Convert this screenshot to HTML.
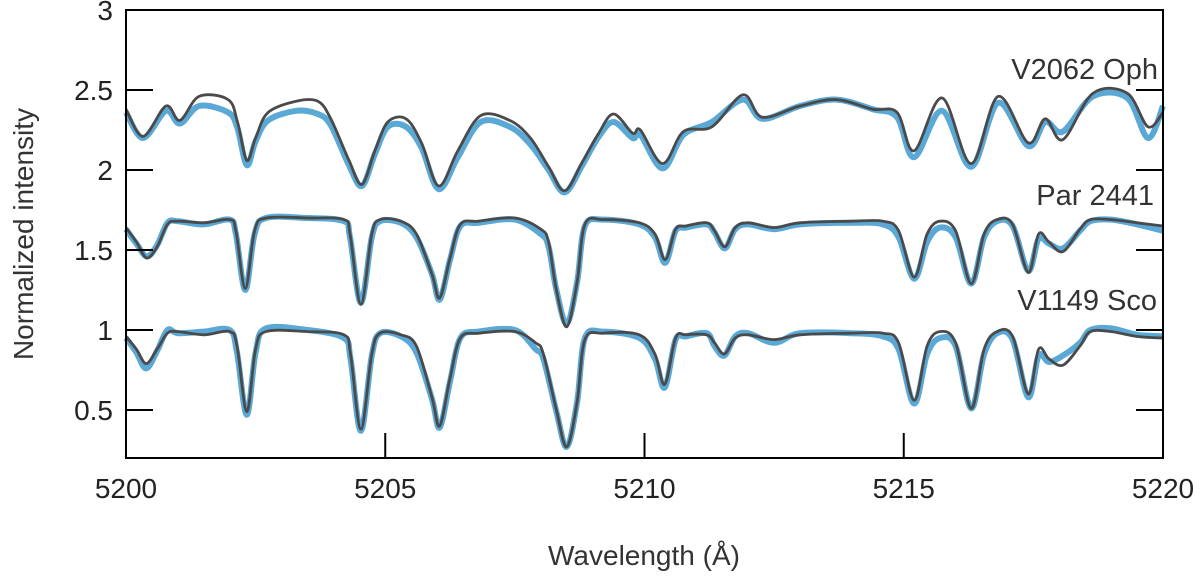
<!DOCTYPE html>
<html><head><meta charset="utf-8"><style>
html,body{margin:0;padding:0;background:#fff;}
svg{display:block;font-family:"Liberation Sans",sans-serif;}
</style></head><body>
<svg id="chart" width="1200" height="579" viewBox="0 0 1200 579" xmlns="http://www.w3.org/2000/svg">
<g id="series"></g>
<g id="axes"></g>
<text x="644" y="565" font-size="28" fill="#333" text-anchor="middle">Wavelength (Å)</text>
<text transform="translate(33,234) rotate(-90)" font-size="28" fill="#333" text-anchor="middle">Normalized intensity</text>
<text x="1158" y="79" font-size="29" fill="#333" text-anchor="end">V2062 Oph</text>
<text x="1154" y="205" font-size="29" fill="#333" text-anchor="end">Par 2441</text>
<text x="1157" y="310" font-size="29" fill="#333" text-anchor="end">V1149 Sco</text>
</svg>
<script>
const xTicks = [5200, 5205, 5210, 5215, 5220];
const yTicks = [0.5, 1, 1.5, 2, 2.5, 3];
const yTickLabels = ["0.5", "1", "1.5", "2", "2.5", "3"];

const opModelW = [5200,5200.33,5200.77,5201.04,5201.41,5201.97,5202.15,5202.33,5202.5,5202.74,5203.28,5203.7,5203.95,5204.3,5204.55,5204.8,5205.05,5205.4,5205.7,5206.03,5206.4,5206.84,5207.4,5207.8,5208.15,5208.46,5208.8,5209.1,5209.4,5209.77,5209.92,5210.35,5210.75,5211.3,5211.9,5212.27,5213,5213.7,5214.4,5214.87,5215.2,5215.74,5216.3,5216.82,5217.4,5217.73,5218.07,5218.65,5219.31,5219.71,5220];
const opModelV = [2.38,2.21,2.40,2.31,2.46,2.44,2.30,2.06,2.20,2.36,2.43,2.43,2.32,2.06,1.91,2.12,2.30,2.32,2.17,1.90,2.12,2.34,2.31,2.20,2.02,1.87,2.05,2.22,2.35,2.23,2.25,2.04,2.24,2.27,2.47,2.33,2.40,2.44,2.38,2.36,2.12,2.45,2.04,2.46,2.17,2.32,2.19,2.48,2.48,2.27,2.36];
const opObsV = [2.36,2.20,2.37,2.29,2.40,2.36,2.26,2.03,2.18,2.31,2.37,2.35,2.28,2.03,1.90,2.10,2.27,2.27,2.14,1.88,2.08,2.30,2.27,2.16,2.00,1.86,2.03,2.20,2.30,2.20,2.22,2.01,2.22,2.30,2.44,2.32,2.40,2.44,2.38,2.33,2.08,2.37,2.02,2.42,2.15,2.30,2.24,2.46,2.45,2.20,2.40];

const parModelW = [5200,5200.2,5200.4,5200.6,5200.8,5201,5201.5,5202,5202.12,5202.3,5202.48,5202.7,5203.5,5204.2,5204.32,5204.53,5204.74,5204.9,5205.3,5205.6,5205.9,5206.05,5206.25,5206.45,5206.8,5207.5,5208,5208.15,5208.3,5208.5,5208.7,5208.85,5209.2,5209.9,5210.2,5210.4,5210.6,5210.8,5211.2,5211.35,5211.55,5211.75,5212,5212.5,5213,5214,5214.6,5214.9,5215.2,5215.45,5215.7,5216,5216.3,5216.55,5216.8,5217.1,5217.4,5217.6,5217.8,5218.07,5218.4,5218.6,5219,5219.5,5220];
const parModelV = [1.64,1.55,1.45,1.52,1.66,1.68,1.67,1.69,1.62,1.26,1.62,1.70,1.70,1.69,1.60,1.16,1.60,1.69,1.68,1.60,1.35,1.20,1.45,1.66,1.68,1.70,1.63,1.55,1.25,1.02,1.30,1.66,1.69,1.67,1.60,1.44,1.63,1.65,1.67,1.62,1.52,1.64,1.67,1.64,1.67,1.68,1.68,1.62,1.33,1.60,1.68,1.62,1.29,1.60,1.69,1.66,1.36,1.60,1.55,1.49,1.63,1.69,1.69,1.67,1.65];
const parObsV = [1.63,1.54,1.46,1.53,1.67,1.68,1.66,1.69,1.60,1.25,1.60,1.70,1.70,1.68,1.58,1.17,1.58,1.68,1.67,1.58,1.35,1.19,1.44,1.65,1.67,1.69,1.60,1.52,1.25,1.04,1.30,1.65,1.69,1.66,1.58,1.42,1.62,1.64,1.66,1.61,1.51,1.63,1.66,1.63,1.66,1.67,1.66,1.58,1.32,1.55,1.64,1.58,1.29,1.58,1.68,1.65,1.37,1.57,1.54,1.51,1.62,1.68,1.69,1.66,1.62];

const scoModelW = [5200,5200.2,5200.39,5200.6,5200.8,5201,5201.5,5202,5202.14,5202.33,5202.5,5202.7,5203.5,5204.2,5204.33,5204.53,5204.74,5204.9,5205.3,5205.6,5205.9,5206.05,5206.25,5206.45,5206.8,5207.5,5207.9,5208.05,5208.3,5208.5,5208.7,5208.85,5209.2,5209.9,5210.2,5210.39,5210.6,5210.8,5211.2,5211.35,5211.54,5211.75,5212,5212.5,5213,5214,5214.6,5214.9,5215.2,5215.45,5215.7,5216,5216.3,5216.55,5216.8,5217.1,5217.4,5217.6,5217.8,5218.07,5218.4,5218.6,5219,5219.5,5220];
const scoModelV = [0.96,0.88,0.79,0.88,0.98,0.99,0.97,0.99,0.90,0.49,0.88,0.99,0.99,0.97,0.85,0.38,0.85,0.98,0.97,0.90,0.58,0.40,0.70,0.95,0.98,0.99,0.92,0.85,0.50,0.27,0.55,0.94,0.98,0.97,0.85,0.66,0.95,0.97,0.97,0.92,0.85,0.95,0.97,0.94,0.97,0.98,0.98,0.92,0.56,0.90,0.99,0.92,0.51,0.88,0.99,0.96,0.60,0.88,0.82,0.78,0.90,0.99,0.99,0.96,0.95];
const scoObsV = [0.95,0.86,0.76,0.87,1.00,0.98,0.99,1.00,0.86,0.47,0.86,1.01,1.00,0.95,0.82,0.37,0.84,0.98,0.96,0.86,0.57,0.39,0.68,0.95,0.99,1.00,0.88,0.82,0.49,0.27,0.55,0.95,0.99,0.95,0.82,0.64,0.94,0.96,0.98,0.90,0.84,0.96,0.98,0.92,0.98,0.98,0.96,0.88,0.54,0.85,0.95,0.90,0.51,0.85,0.98,0.94,0.58,0.84,0.80,0.84,0.92,1.00,1.01,0.97,0.96];

const L=126, R=1163, T=10, B=458;
const xMin=5200, xMax=5220, yMin=0.2, yMax=3;
function xs(w){return L+(w-xMin)/(xMax-xMin)*(R-L);}
function ys(v){return B-(v-yMin)/(yMax-yMin)*(B-T);}
const NS='http://www.w3.org/2000/svg';

function smoothPath(W,V){
  const p=W.map((w,i)=>[xs(w),ys(V[i])]);
  let d='M'+p[0][0].toFixed(1)+','+p[0][1].toFixed(1);
  for(let i=0;i<p.length-1;i++){
    const p0=p[i-1]||p[i], p1=p[i], p2=p[i+1], p3=p[i+2]||p2;
    const c1=[p1[0]+(p2[0]-p0[0])/6, p1[1]+(p2[1]-p0[1])/6];
    const c2=[p2[0]-(p3[0]-p1[0])/6, p2[1]-(p3[1]-p1[1])/6];
    d+='C'+c1[0].toFixed(1)+','+c1[1].toFixed(1)+' '+c2[0].toFixed(1)+','+c2[1].toFixed(1)+' '+p2[0].toFixed(1)+','+p2[1].toFixed(1);
  }
  return d;
}
const series=document.getElementById('series');
function addPath(d,color,width,name){
  const el=document.createElementNS(NS,'path');
  el.setAttribute('d',d);
  el.setAttribute('fill','none');
  el.setAttribute('stroke',color);
  el.setAttribute('stroke-width',width);
  el.setAttribute('stroke-linejoin','round');
  
  
  series.appendChild(el);
}
addPath(smoothPath(opModelW,opObsV),'#5aa8d6',6,'v2062-oph-observed');
addPath(smoothPath(parModelW,parObsV),'#5aa8d6',6,'par-2441-observed');
addPath(smoothPath(scoModelW,scoObsV),'#5aa8d6',6,'v1149-sco-observed');
addPath(smoothPath(opModelW,opModelV),'#4a4a4a',2.8,'v2062-oph-model');
addPath(smoothPath(parModelW,parModelV),'#4a4a4a',2.8,'par-2441-model');
addPath(smoothPath(scoModelW,scoModelV),'#4a4a4a',2.8,'v1149-sco-model');

const axes=document.getElementById('axes');
function line(x1,y1,x2,y2,name){
  const el=document.createElementNS(NS,'line');
  el.setAttribute('x1',x1);el.setAttribute('y1',y1);el.setAttribute('x2',x2);el.setAttribute('y2',y2);
  el.setAttribute('stroke','#000');el.setAttribute('stroke-width',2);
  
  
  axes.appendChild(el);
}
function text(x,y,s,anchor,name){
  const el=document.createElementNS(NS,'text');
  el.setAttribute('x',x);el.setAttribute('y',y);el.setAttribute('font-size',28);
  el.setAttribute('fill','#222');el.setAttribute('text-anchor',anchor);
  el.textContent=s;
  
  
  axes.appendChild(el);
}
const fr=document.createElementNS(NS,'rect');
fr.setAttribute('x',L);fr.setAttribute('y',T);fr.setAttribute('width',R-L);fr.setAttribute('height',B-T);
fr.setAttribute('fill','none');fr.setAttribute('stroke','#000');fr.setAttribute('stroke-width',2);


axes.appendChild(fr);
xTicks.forEach(t=>{
  const x=xs(t);
  line(x,B,x,B-25,'x-tick');
  text(x,498,String(t),'middle','x-tick-label');
});
yTicks.forEach((t,i)=>{
  const y=ys(t);
  line(L,y,L+27,y,'y-tick');
  line(R,y,R-27,y,'y-tick-right');
  text(113,y+10,yTickLabels[i],'end','y-tick-label');
});
</script>
</body></html>
